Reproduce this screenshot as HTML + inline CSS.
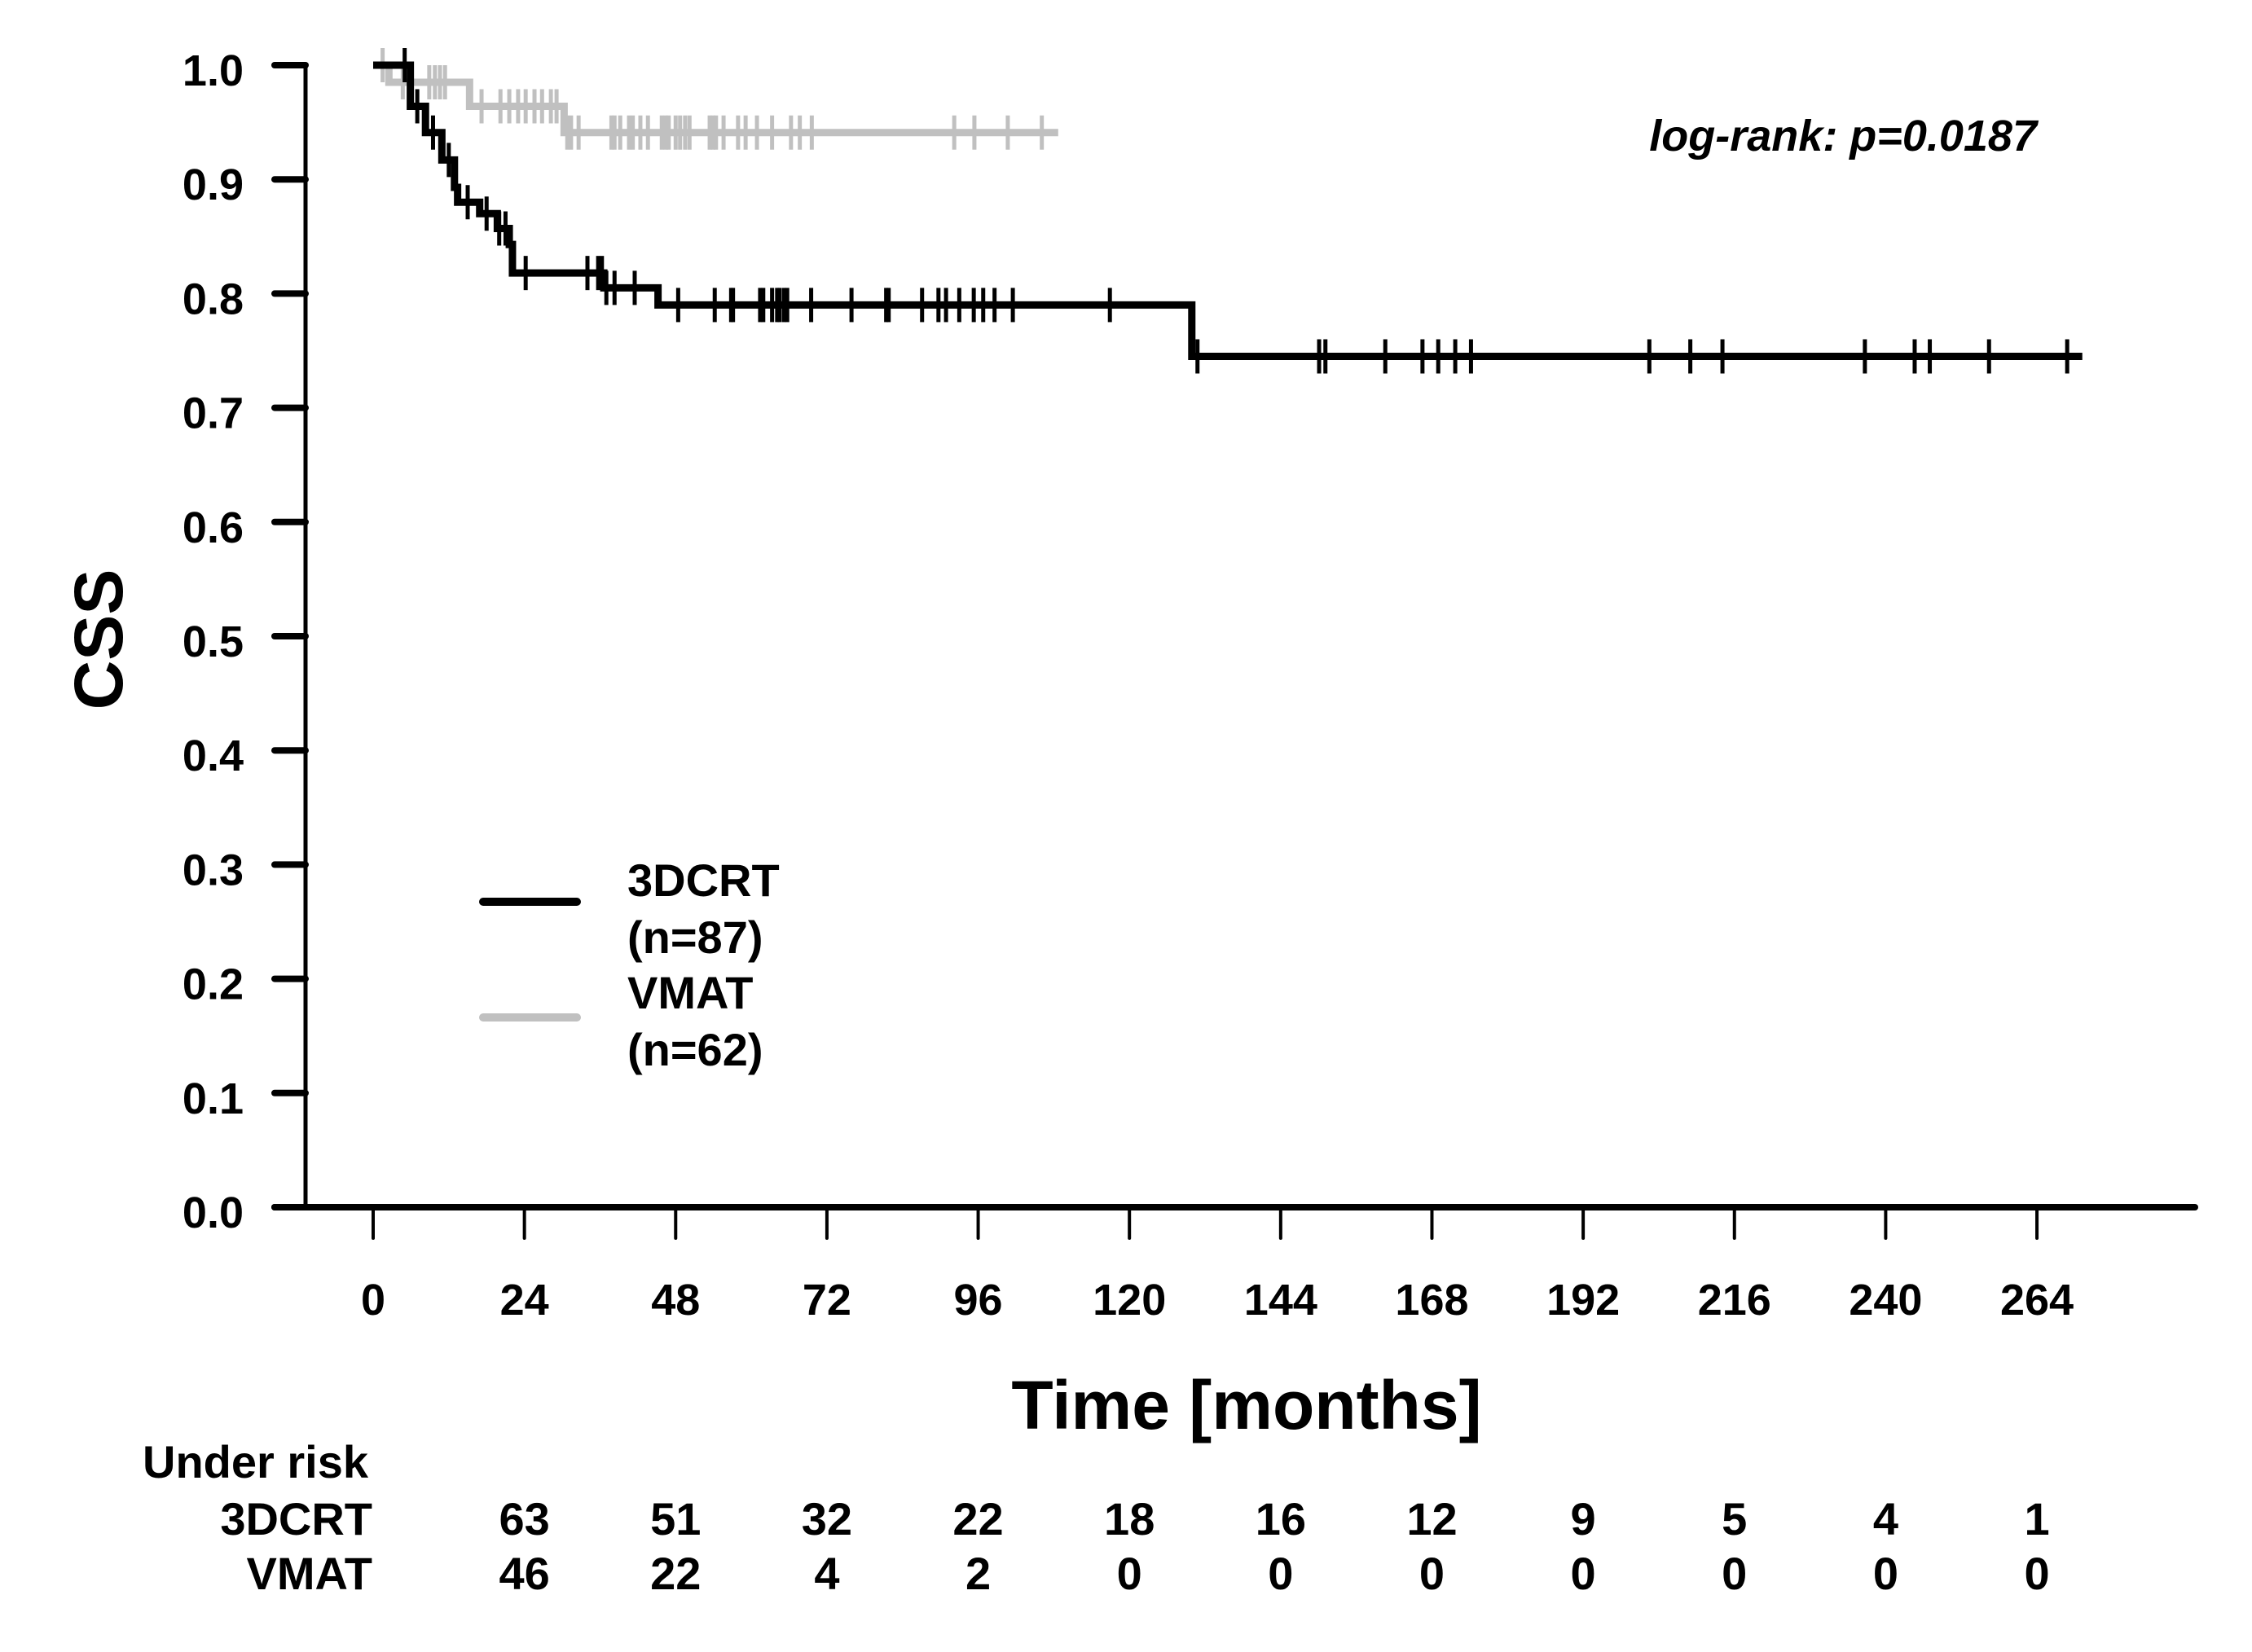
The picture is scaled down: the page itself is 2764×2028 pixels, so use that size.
<!DOCTYPE html>
<html><head><meta charset="utf-8"><style>
html,body{margin:0;padding:0;background:#fff;}
svg{display:block;font-family:"Liberation Sans",Arial,sans-serif;font-weight:bold;}
</style></head><body>
<svg id="chart" width="2764" height="2028" viewBox="0 0 2764 2028" xmlns="http://www.w3.org/2000/svg">
<g id="axes"></g>
<g id="curves"></g>
<text x="0" y="0" font-size="84" text-anchor="middle" transform="translate(150,785) rotate(-90)">CSS</text>
<text x="1530" y="1754" font-size="84" text-anchor="middle">Time [months]</text>
<text x="2500" y="185" font-size="54" font-style="italic" text-anchor="end">log-rank: p=0.0187</text>
<g>
<line x1="593" y1="1107" x2="708" y2="1107" stroke="#000" stroke-width="10" stroke-linecap="round"/>
<line x1="593" y1="1249" x2="708" y2="1249" stroke="#c0c0c0" stroke-width="10" stroke-linecap="round"/>
<text x="770" y="1100" font-size="56">3DCRT</text>
<text x="770" y="1170" font-size="56">(n=87)</text>
<text x="770" y="1238" font-size="56">VMAT</text>
<text x="770" y="1308" font-size="56">(n=62)</text>
</g>
<g id="risk">
<text x="175" y="1814" font-size="56">Under risk</text>
<text x="457" y="1884" font-size="56" text-anchor="end">3DCRT</text>
<text x="457" y="1951" font-size="56" text-anchor="end">VMAT</text>
</g>
</svg>
<script>
const xTicks=[0,24,48,72,96,120,144,168,192,216,240,264];
const yTicks=[0,0.1,0.2,0.3,0.4,0.5,0.6,0.7,0.8,0.9,1.0];
const riskTimes=[24,48,72,96,120,144,168,192,216,240,264];
const risk3dcrt=[63,51,32,22,18,16,12,9,5,4,1];
const riskVmat=[46,22,4,2,0,0,0,0,0,0,0];
const dcrtStepTimes=[0,5.9,8.3,10.9,12.9,13.4,16.9,19.7,21.6,22.1,36.6,45.2,129.9];
const dcrtStepLevels=[1.0,0.964,0.941,0.917,0.893,0.880,0.870,0.857,0.843,0.818,0.805,0.790,0.745];
const dcrtEnd=271.2;
const dcrtCensor=[5,7,9.5,12,15,18,20,21,24.2,34,35.7,36.3,37,38.3,41.5,48.4,54.2,56.8,57.1,61.4,61.9,63.3,64.1,64.5,65.2,65.7,69.5,75.9,81.4,81.8,87.1,89.7,90.9,93,95.3,96.8,98.6,101.5,116.9,130.8,150.1,151.1,160.6,166.5,169,171.7,174.2,202.5,209,214.1,236.7,244.6,247,256.4,268.8];
const vmatStepTimes=[0,2.5,15.3,30.3];
const vmatStepLevels=[1.0,0.985,0.964,0.941];
const vmatEnd=108.7;
const vmatCensor=[1.5,4.7,8.9,9.8,10.6,11.4,17.2,20.2,21.6,23,24.2,25.6,26.8,28.2,29.1,30.8,31.4,32.6,37.8,38.3,39.2,40.6,41.2,42.4,43.6,45.8,46.4,46.9,48,48.7,49.5,50.2,53.4,53.9,54.4,55.6,57.9,59.1,60.9,63.3,66.3,67.7,69.6,92.2,95.4,100.7,106.1];

const NS="http://www.w3.org/2000/svg";
const X=m=>458+m*7.735;
const Y=v=>1482-v*1402;
function mk(tag,attrs,parent){const e=document.createElementNS(NS,tag);for(const k in attrs)e.setAttribute(k,attrs[k]);parent.appendChild(e);return e;}
const axes=document.getElementById('axes');
let e=mk('line',{x1:375,y1:Y(1),x2:375,y2:1482,stroke:'#000','stroke-width':5},axes);


e=mk('line',{x1:337,y1:1482,x2:2694,y2:1482,stroke:'#000','stroke-width':8,'stroke-linecap':'round'},axes);


yTicks.forEach(v=>{
  let t=mk('line',{x1:337,y1:Y(v),x2:375,y2:Y(v),stroke:'#000','stroke-width':8,'stroke-linecap':'round'},axes);
  
  
  let l=mk('text',{x:299,y:Y(v)+25,'font-size':54,'text-anchor':'end'},axes);
  l.textContent=v.toFixed(1);
  
  
});
xTicks.forEach(m=>{
  let t=mk('line',{x1:X(m),y1:1482,x2:X(m),y2:1520,stroke:'#000','stroke-width':4,'stroke-linecap':'round'},axes);
  
  
  let l=mk('text',{x:X(m),y:1614,'font-size':54,'text-anchor':'middle'},axes);
  l.textContent=m;
  
  
});
const risk=document.getElementById('risk');
riskTimes.forEach((m,i)=>{
  let a=mk('text',{x:X(m),y:1884,'font-size':56,'text-anchor':'middle'},risk);
  a.textContent=risk3dcrt[i];
  
  
  let b=mk('text',{x:X(m),y:1951,'font-size':56,'text-anchor':'middle'},risk);
  b.textContent=riskVmat[i];
  
  
});
function levelAt(times,levels,t){let v=levels[0];for(let i=0;i<times.length;i++){if(times[i]<=t)v=levels[i];}return v;}
function drawCurve(times,levels,end,cens,color,name){
  const g=document.getElementById('curves');
  let d='M'+X(times[0])+','+Y(levels[0]);
  for(let i=1;i<times.length;i++){d+=' H'+X(times[i])+' V'+Y(levels[i]);}
  d+=' H'+X(end);
  let p=mk('path',{d:d,fill:'none',stroke:color,'stroke-width':9,'stroke-linejoin':'miter'},g);
  
  
  cens.forEach(t=>{
    const y=Y(levelAt(times,levels,t));
    let c=mk('line',{x1:X(t),y1:y-21,x2:X(t),y2:y+21,stroke:color,'stroke-width':5},g);
    
    
  });
}
drawCurve(vmatStepTimes,vmatStepLevels,vmatEnd,vmatCensor,'#c0c0c0','vmat');
drawCurve(dcrtStepTimes,dcrtStepLevels,dcrtEnd,dcrtCensor,'#000','3dcrt');
</script>
</body></html>
